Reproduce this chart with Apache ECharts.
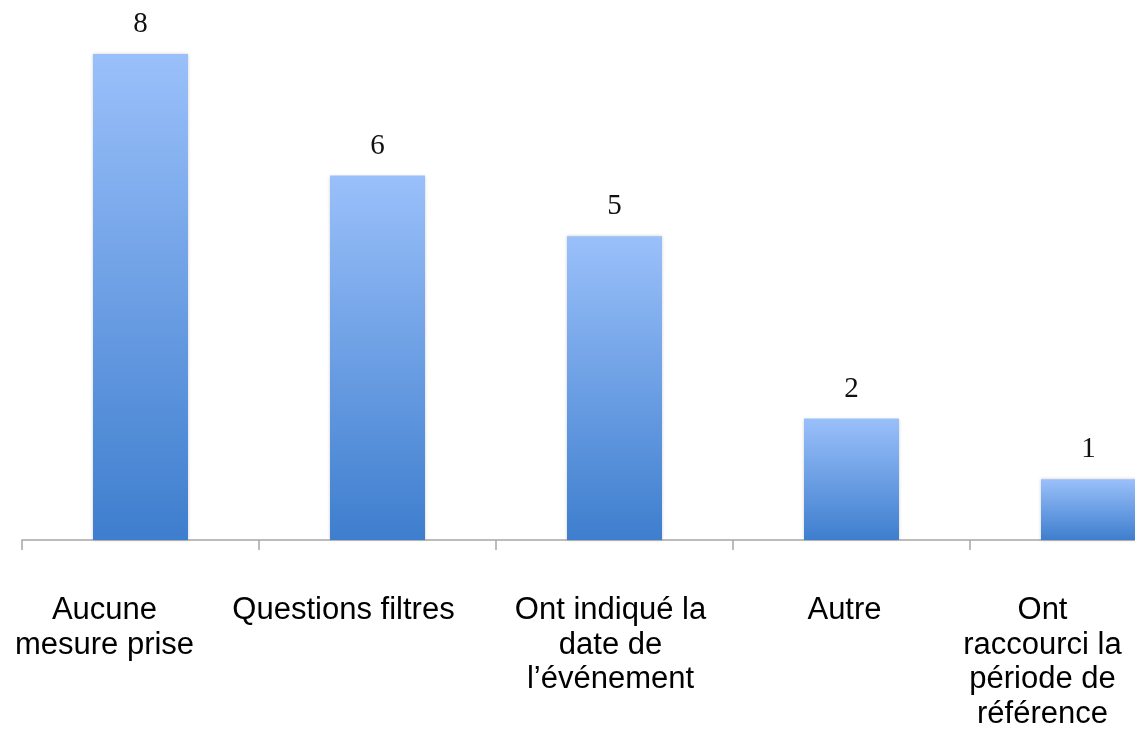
<!DOCTYPE html>
<html><head><meta charset="utf-8">
<script src="https://cdn.jsdelivr.net/npm/echarts@6/dist/echarts.min.js"></script>
<style>html,body{margin:0;padding:0;background:#fff}#c{width:1135px;height:733px}</style>
</head><body><div id="c"></div>
<script>
const categories = ['Aucune\nmesure prise', 'Questions filtres', 'Ont indiqué la\ndate de\nl’événement', 'Autre', 'Ont\nraccourci la\npériode de\nréférence'];
const values = [8, 6, 5, 2, 1];
const yMax = 8;
// horizontal offset (px, leftwards) of each category label relative to its bar
const labelShift = [36, 34, 4, 7, 46];

const chart = echarts.init(document.getElementById('c'));
chart.setOption({
  animation: false,
  grid: { left: 22, top: 54, bottom: 193, width: 1185, containLabel: false, outerBoundsMode: 'none' },
  xAxis: {
    type: 'category',
    data: categories.map((c, i) => ({ value: c, textStyle: { padding: [0, labelShift[i] * 2, 0, 0] } })),
    axisLine: { lineStyle: { color: '#A6A6A6', width: 1.5 } },
    axisTick: { show: true, length: 10, lineStyle: { color: '#A6A6A6', width: 1.5 } },
    axisLabel: { interval: 0, margin: 53, fontFamily: 'Liberation Sans, Arial', fontSize: 31, lineHeight: 34.7, color: '#000' }
  },
  yAxis: { type: 'value', min: 0, max: yMax, show: false, splitLine: { show: false } },
  series: [{
    type: 'bar',
    data: values,
    barWidth: 95,
    itemStyle: {
      color: { type: 'linear', x: 0, y: 0, x2: 0, y2: 1, colorStops: [
        { offset: 0, color: '#9AC0FA' }, { offset: 1, color: '#3E7ECE' } ] },
      shadowColor: 'rgba(0,0,0,0.2)', shadowBlur: 3
    },
    label: { show: true, position: 'top', distance: 15, fontFamily: 'Liberation Serif, serif', fontSize: 29, color: '#111' }
  }]
});
</script></body></html>
